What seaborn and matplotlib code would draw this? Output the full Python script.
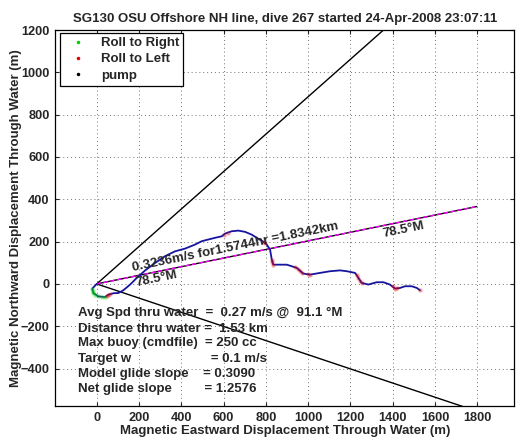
import numpy as np
import pandas as pd
import matplotlib
matplotlib.use("Agg")
import matplotlib.pyplot as plt
import seaborn as sns

# ---------------- data ----------------
title = "SG130 OSU Offshore NH line, dive 267 started 24-Apr-2008 23:07:11"
xlabel = "Magnetic Eastward Displacement Through Water (m)"
ylabel = "Magnetic Northward Displacement Through Water (m)"

# glider track (m east, m north)
track_east = [0, -21, -16, 8, 39, 55, 79, 102, 126, 158, 189, 228, 276, 323, 370,
              418, 465, 497, 528, 560, 591, 607, 639, 670, 702, 733, 757, 787, 804,
              820, 828, 835, 859, 899, 946, 977, 1009, 1056, 1104, 1151, 1183, 1222,
              1238, 1253, 1285, 1324, 1356, 1387, 1411, 1435, 1458, 1490, 1514, 1529]
track_north = [0, -22, -43, -59, -62, -51, -44, -43, -30, -3, 28, 63, 99, 131, 154,
               167, 186, 202, 210, 218, 225, 238, 249, 252, 246, 233, 218, 200, 186,
               162, 115, 91, 91, 91, 76, 49, 44, 52, 60, 64, 60, 52,
               28, 5, -3, 8, 8, -3, -22, -19, -11, -11, -19, -30]

# roll-to-right samples (green) and roll-to-left samples (red)
right_east = [-21, -18, -16, -6, 8, 24, 39]
right_north = [-22, -33, -43, -53, -59, -62, -62]
left_east = [48, 55, 62, 600, 620, 787, 796, 828, 831, 835, 940, 950, 960, 970,
             1000, 1010, 1230, 1238, 1245, 1253, 1400, 1411, 1420, 1529]
left_north = [-56, -51, -48, 230, 240, 200, 193, 115, 103, 91, 78, 72, 62, 52,
              45, 44, 40, 28, 16, 5, -12, -22, -21, -30]
pump_east = [0]
pump_north = [0]

heading_deg = 78.5
heading_spread = 30.0
speed = 0.3236
hours = 1.5744
dist_km = 1.8342

info_lines = [
    "Avg Spd thru water  =  0.27 m/s @  91.1 \u00b0M",
    "Distance thru water =  1.53 km",
    "Max buoy (cmdfile)  = 250 cc",
    "Target w                      = 0.1 m/s",
    "Model glide slope    = 0.3090",
    "Net glide slope         = 1.2576",
]
info_y = [-137, -213, -281, -354, -425, -497]

xticks = [0, 200, 400, 600, 800, 1000, 1200, 1400, 1600, 1800]
yticks = [-400, -200, 0, 200, 400, 600, 800, 1000, 1200]

# ---------------- style ----------------
sns.set_style("ticks")
plt.rcParams['font.family'] = ['Liberation Sans', 'DejaVu Sans']
plt.rcParams['font.weight'] = 'bold'
FS = 9.5
TFS = 9.2

fig = plt.figure(figsize=(5.22, 4.42), dpi=100)
ax = fig.add_axes([0.1059, 0.0814, 0.8793, 0.8507])

# heading lines
L = 4000.0
for hd in (heading_deg - heading_spread, heading_deg + heading_spread):
    r = np.radians(hd)
    d = pd.DataFrame({"e": [0, L * np.sin(r)], "n": [0, L * np.cos(r)]})
    sns.lineplot(data=d, x="e", y="n", ax=ax, color="black", lw=1.0, sort=False,
                 estimator=None)
r = np.radians(heading_deg)
dm = dist_km * 1000
dh = pd.DataFrame({"e": [0, dm * np.sin(r)], "n": [0, dm * np.cos(r)]})
sns.lineplot(data=dh, x="e", y="n", ax=ax, color="black", lw=1.0, sort=False, estimator=None)
sns.lineplot(data=dh, x="e", y="n", ax=ax, color="#ff00ff", lw=1.0, sort=False,
             estimator=None, dashes=False, linestyle=(0, (3, 2)))

# track
dt = pd.DataFrame({"e": track_east, "n": track_north})
sns.lineplot(data=dt, x="e", y="n", ax=ax, color="#1515a0", lw=1.3, sort=False, estimator=None)
ax.plot(right_east, right_north, ".", color="#00dd00", ms=4.5, alpha=0.3)
ax.plot(left_east, left_north, ".", color="#ee0000", ms=4.5, alpha=0.25)

# legend handles
hr, = ax.plot([], [], ".", color="#00cc00", ms=3, label="Roll to Right")
hl, = ax.plot([], [], ".", color="#dd0000", ms=3, label="Roll to Left")
hp, = ax.plot([], [], ".", color="black", ms=3, label="pump")

# texts
rot = 90 - heading_deg
ax.text(173, 45, f"{speed:.4f}m/s for{hours:.4f}hr ={dist_km:.4f}km", rotation=rot,
        rotation_mode="anchor", ha="left", va="bottom", fontsize=FS, fontweight="bold")
ax.text(189, -26, f"{heading_deg:.1f}\u00b0M", rotation=rot, rotation_mode="anchor",
        ha="left", va="bottom", fontsize=FS, fontweight="bold")
ax.text(1359, 208, f"{heading_deg:.1f}\u00b0M", rotation=rot, rotation_mode="anchor",
        ha="left", va="bottom", fontsize=FS, fontweight="bold")
for s, yy in zip(info_lines, info_y):
    ax.text(-87, yy, s, ha="left", va="center", fontsize=FS, fontweight="bold")

ax.set_xlim(-196, 1975)
ax.set_ylim(-577, 1200)
ax.set_xticks(xticks)
ax.set_yticks(yticks)
ax.set_xticklabels([str(v) for v in xticks], fontsize=TFS, fontweight="bold")
ax.set_yticklabels([str(v).replace("-", "\u2212") for v in yticks], fontsize=TFS, fontweight="bold")
ax.tick_params(direction="in", top=True, right=True, length=3, width=0.8, pad=4)
ax.grid(True, linestyle=(0, (1, 3)), color="0.45", lw=0.7)
for sp in ax.spines.values():
    sp.set_linewidth(0.9)
    sp.set_color("black")
ax.set_xlabel(xlabel, fontsize=FS, fontweight="bold", labelpad=1)
ax.set_ylabel(ylabel, fontsize=FS, fontweight="bold", labelpad=-1)
ax.set_title(title, fontsize=FS, fontweight="bold", pad=6)

leg = ax.legend(handles=[hr, hl, hp], loc="upper left", bbox_to_anchor=(0.01, 0.992),
                borderaxespad=0, fancybox=False, framealpha=1, edgecolor="black",
                prop={"size": FS, "weight": "bold"}, handlelength=2.2, handletextpad=0.6,
                labelspacing=0.3, borderpad=0.3)
leg.get_frame().set_linewidth(0.9)

fig.savefig("out.png", dpi=100)
